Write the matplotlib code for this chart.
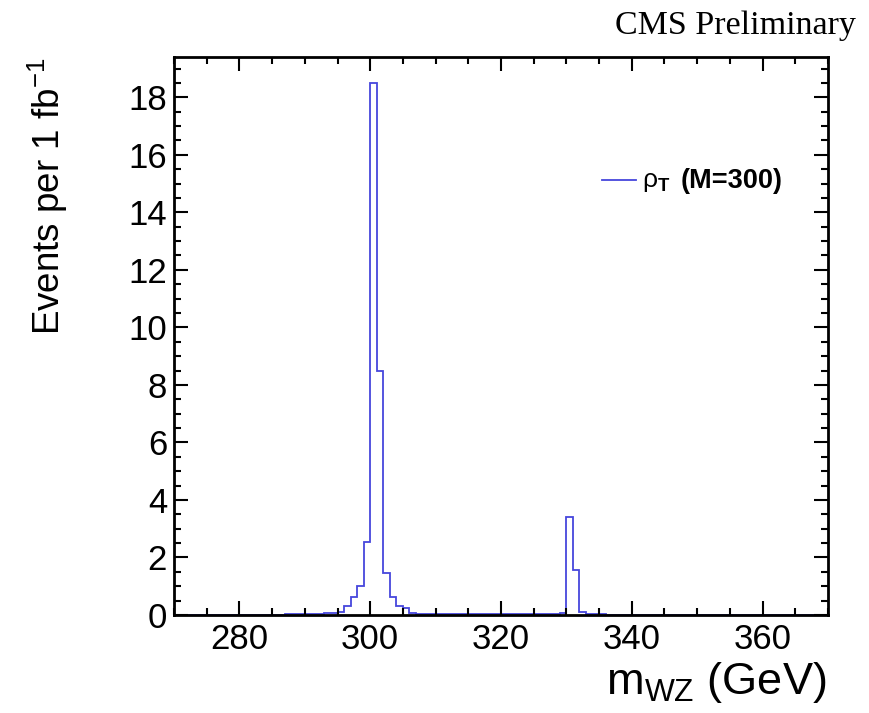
import numpy as np
import matplotlib
matplotlib.use("Agg")
import matplotlib.pyplot as plt
from matplotlib.ticker import MultipleLocator

# ---- data (1 GeV bins from 270 to 370) ----
bin_lo = 270
bin_hi = 370
counts = [
    0, 0, 0, 0, 0, 0, 0, 0, 0, 0,                                  # 270-279
    0, 0, 0, 0, 0, 0.01, 0.01, 0.02, 0.02, 0.03,                   # 280-289
    0.04, 0.04, 0.05, 0.06, 0.08, 0.12, 0.3, 0.63, 1.0, 2.55,      # 290-299
    18.5, 8.5, 1.45, 0.62, 0.3, 0.25, 0.07, 0.05, 0.04, 0.04,      # 300-309
    0.03, 0.03, 0.03, 0.02, 0.03, 0.02, 0.02, 0.02, 0.02, 0.02,    # 310-319
    0.02, 0.02, 0.02, 0.02, 0.02, 0.02, 0.03, 0.03, 0.03, 0.06,    # 320-329
    3.4, 1.55, 0.1, 0.03, 0.02, 0.02, 0.01, 0.01, 0.01, 0.01,      # 330-339
    0.01, 0.01, 0.01, 0.01, 0.01, 0.01, 0.01, 0.01, 0.01, 0.01,    # 340-349
    0.01, 0.01, 0.01, 0, 0, 0, 0, 0, 0, 0,                         # 350-359
    0, 0, 0, 0, 0, 0, 0, 0, 0, 0,                                  # 360-369
]
xticks = [280, 300, 320, 340, 360]
yticks = [0, 2, 4, 6, 8, 10, 12, 14, 16, 18]
legend_label = "(M=300)"

plt.rcParams['font.family'] = ['Liberation Sans', 'DejaVu Sans']
plt.rcParams['mathtext.fontset'] = 'custom'
plt.rcParams['mathtext.rm'] = 'Liberation Sans'
plt.rcParams['mathtext.it'] = 'Liberation Sans:italic'
plt.rcParams['mathtext.bf'] = 'Liberation Sans:bold'

W, H = 870, 713
fig = plt.figure(figsize=(W / 100, H / 100), dpi=100)
L, R, T, B = 174, 828, 57, 615
ax = fig.add_axes([L / W, 1 - B / H, (R - L) / W, (B - T) / H])

edges = np.arange(bin_lo, bin_hi + 1, 1)
ax.stairs(counts, edges, color='#4646dc', lw=1.3)

ax.set_xlim(270, 370)
ax.set_ylim(0, 19.4)
ax.set_xticks(xticks)
ax.set_yticks(yticks)
ax.xaxis.set_minor_locator(MultipleLocator(5))
ax.yaxis.set_minor_locator(MultipleLocator(0.5))
ax.tick_params(which='both', direction='in', top=True, right=True, width=1.5, colors='black')
ax.tick_params(which='major', length=10)
ax.tick_params(which='minor', length=5)
ax.tick_params(axis='x', which='both', labelsize=25, pad=6)
ax.tick_params(axis='y', which='both', labelsize=25, pad=5)
for s in ax.spines.values():
    s.set_linewidth(2)

# axis titles (ROOT style, aligned to the end of the axis)
fig.text(48 / W, 1 - 57 / H, r'Events per 1 fb$^{-1}$', rotation=90,
         ha='center', va='top', fontsize=26.5)
fig.text(826 / W, 1 - 694 / H, r'm$_{\mathrm{WZ}}$ (GeV)', ha='right',
         va='baseline', fontsize=32.5)

# CMS Preliminary
fig.text(856 / W, 1 - 34 / H, 'CMS Preliminary', ha='right', va='baseline',
         fontsize=24.5, family=['Liberation Serif', 'DejaVu Serif'])

# legend drawn by hand
ax.plot([0.655, 0.706], [0.78, 0.78], transform=ax.transAxes, color='#4646dc', lw=1.3)
ax.text(0.716, 0.776, r'ρ$_{\mathbf{T}}$', transform=ax.transAxes, ha='left',
        va='center', fontsize=19)
ax.text(0.775, 0.778, legend_label, transform=ax.transAxes, ha='left',
        va='center', fontsize=19.5, fontweight='bold')

fig.savefig('out.png', dpi=100)
